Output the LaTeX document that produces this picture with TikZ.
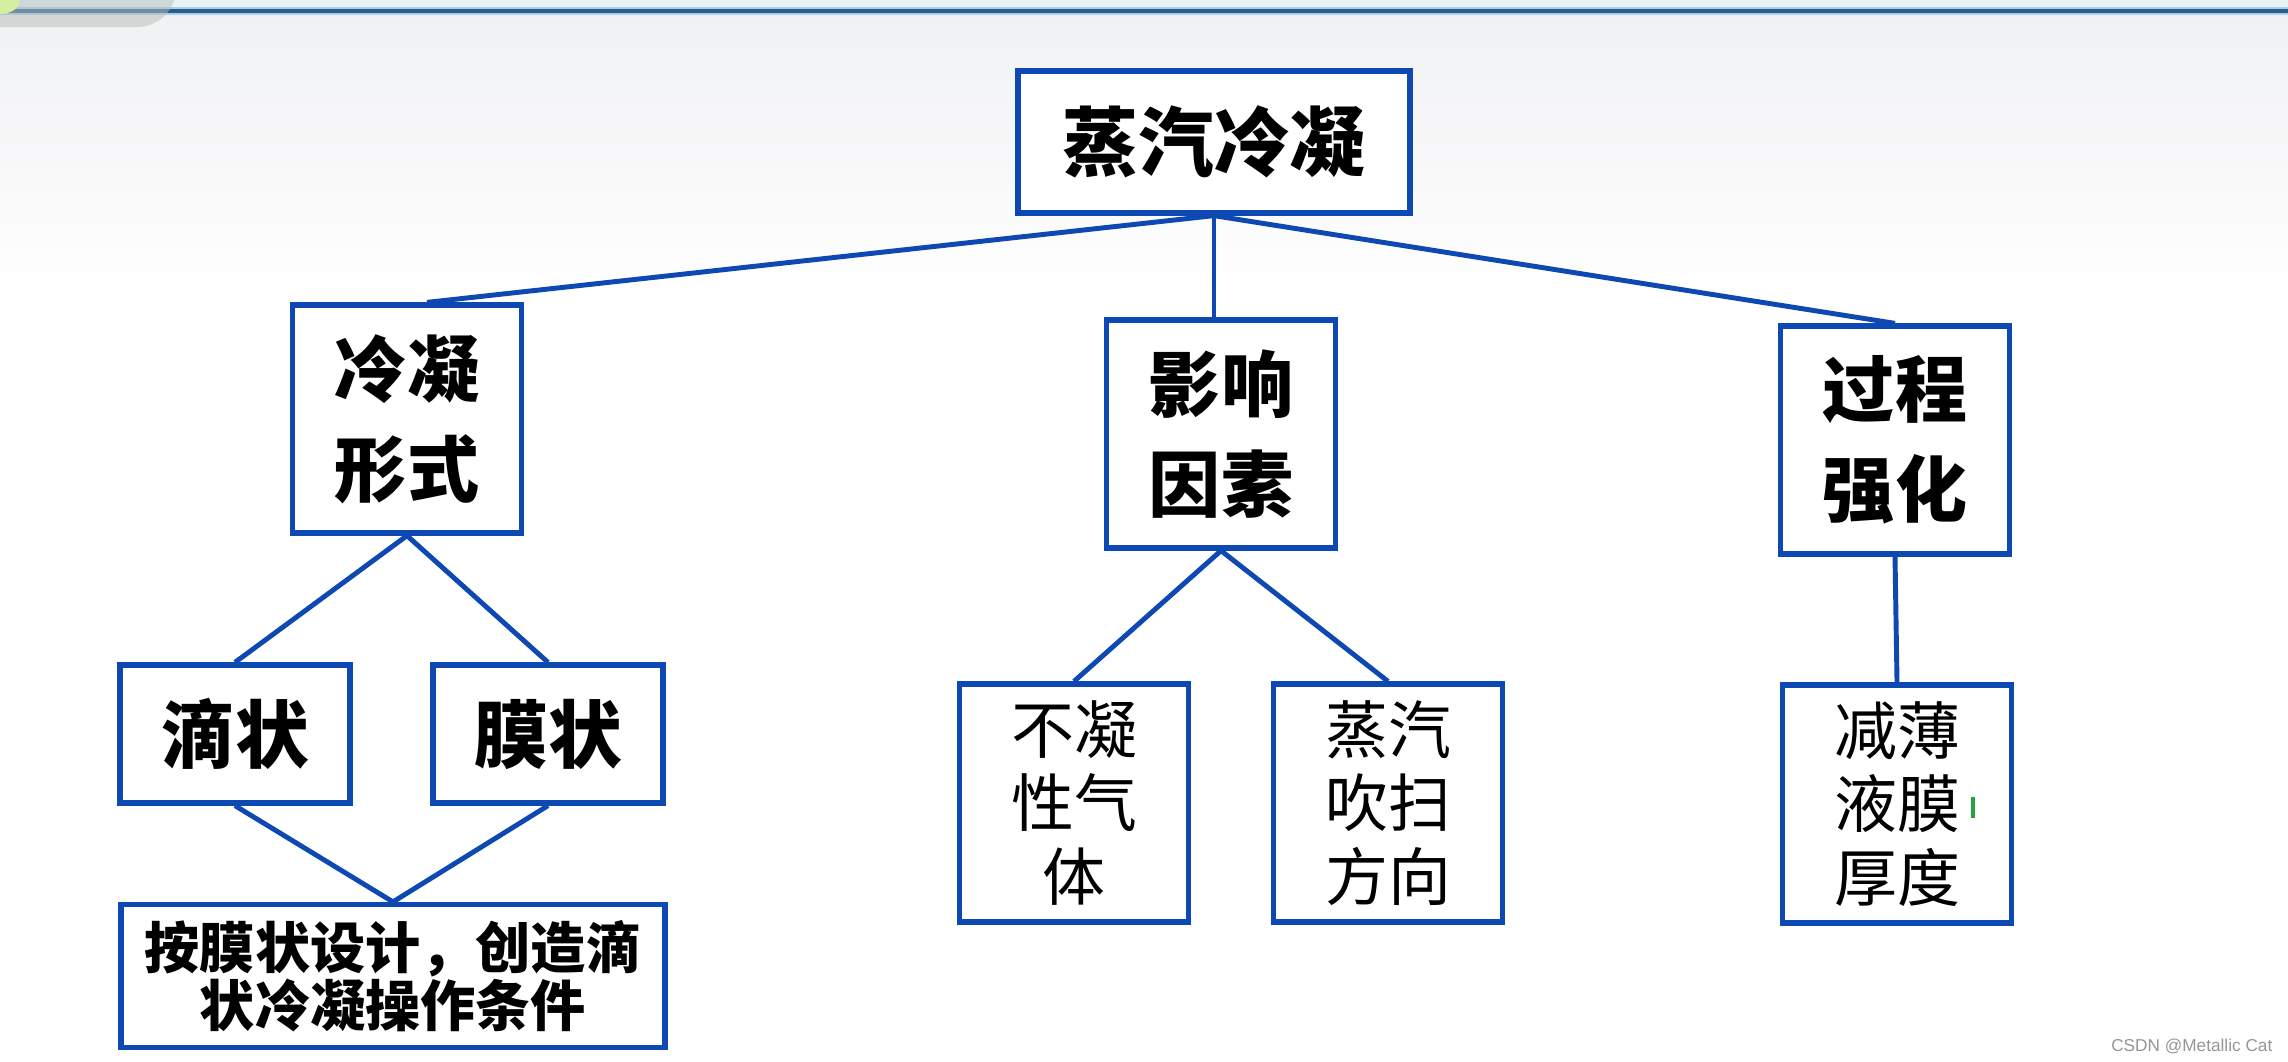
\documentclass[tikz,border=0pt]{standalone}
\usepackage{fontspec}
\setmainfont{Noto Sans CJK SC}
\newfontfamily\wmfont{Liberation Sans}
\usetikzlibrary{calc}
\definecolor{boxblue} {RGB}{14,72,178}
\definecolor{barblue} {RGB}{45,92,138}
\definecolor{barglow} {RGB}{165,208,238}
\definecolor{topwash} {RGB}{233,244,248}
\definecolor{bggray}  {RGB}{240,241,243}
\definecolor{tabgray} {RGB}{185,188,187}
\definecolor{tabgreen}{RGB}{212,239,160}
\definecolor{cursgreen}{RGB}{40,160,60}
\definecolor{wmgray}  {RGB}{150,150,150}

\begin{document}
\begin{tikzpicture}[
  x=0.1mm, y=-0.1mm,
  box/.style={draw=boxblue,line width=1.5pt,fill=white,inner sep=0pt,align=center},
  link/.style={draw=boxblue,line width=1.4pt},
  headbox/.style={box,minimum width=39.2mm,minimum height=14.2mm,
                  font=\bfseries\fontsize{21.5}{26}\selectfont},
  midbox/.style={box,minimum width=22.9mm,minimum height=22.8mm,
                 font=\bfseries\fontsize{20.5}{28.5}\selectfont},
  kindbox/.style={box,minimum width=23mm,minimum height=13.8mm,
                  font=\bfseries\fontsize{21}{26}\selectfont},
  leafbox/.style={box,minimum width=22.9mm,minimum height=23.8mm,
                  font=\fontsize{17.9}{21}\selectfont},
]

%% Page and screen frame
\useasboundingbox (0,0) rectangle (2288,1061);
\fill[white] (0,0) rectangle (2288,1061);
\fill[topwash] (0,0) rectangle (2288,11);
\shade[top color=bggray,bottom color=white] (0,11) rectangle (2288,300);
\draw[barglow,line width=2.4pt] (0,11) -- (2288,11);
\draw[barblue,line width=1.1pt] (0,11) -- (2288,11);
\begin{scope}
  \clip (0,0) rectangle (2288,1061);
  \fill[tabgray,opacity=0.5,rounded corners=11pt] (-60,-60) rectangle (176,27);
  \fill[tabgreen] (0,0) ellipse [x radius=20,y radius=14];
\end{scope}

%% Root
\node[headbox] (cond) at (1214,142) {蒸汽冷凝};

%% Second level
\node[midbox] (form)    at (407,419)  {冷凝\\形式};
\node[midbox] (factor)  at (1221,434) {影响\\因素};
\node[midbox] (enhance) at (1895,440) {过程\\强化};

%% Condensation forms
\node[kindbox] (drop) at (235,734) {滴状};
\node[kindbox] (film) at (548,734) {膜状};
\node[box,minimum width=54.4mm,minimum height=14.3mm,
      font=\bfseries\fontsize{15.7}{16.6}\selectfont]
  (design) at (393,976) {按膜状设计，创造滴\\状冷凝操作条件};

%% Factors and enhancement
\node[leafbox] (gas)   at (1074,803) {不凝\\性气\\体};
\node[leafbox] (sweep) at (1388,803) {蒸汽\\吹扫\\方向};
\node[leafbox] (thin)  at (1897,804) {减薄\\液膜\\厚度};

%% Connectors
\draw[link] (cond.south) -- ([xshift=2mm]form.north);
\draw[link] (cond.south) -- (cond.south |- factor.north);
\draw[link] (cond.south) -- (enhance.north);
\draw[link] (form.south) -- (drop.north);
\draw[link] (form.south) -- (film.north);
\draw[link] (drop.south) -- (design.north);
\draw[link] (film.south) -- (design.north);
\draw[link] (factor.south) -- (gas.north);
\draw[link] (factor.south) -- (sweep.north);
\draw[link] (enhance.south) -- (thin.north);

%% Cursor mark and watermark
\draw[cursgreen,line width=1.1pt] (1973,797) -- (1973,818);
\node[anchor=east,inner sep=0pt,text=wmgray,font=\wmfont\fontsize{4.9}{6}\selectfont]
  (mark) at (2273,1046) {CSDN @Metallic Cat};

\end{tikzpicture}
\end{document}
